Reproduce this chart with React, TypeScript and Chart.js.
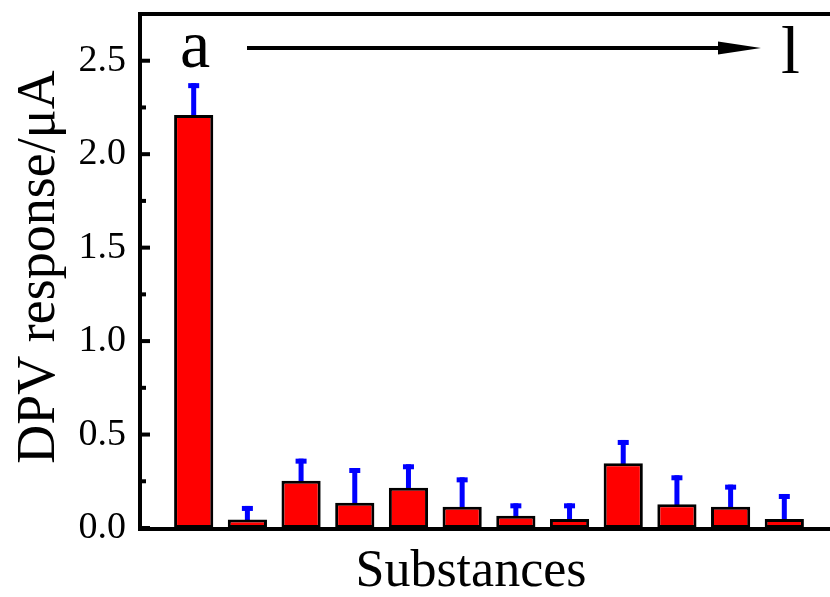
import React, { useEffect, useRef } from 'react';
import { Chart, registerables } from 'chart.js';

Chart.register(...registerables);

const substances = ['a', 'b', 'c', 'd', 'e', 'f', 'g', 'h', 'i', 'j', 'k', 'l'];
const responses = [2.21, 0.045, 0.253, 0.135, 0.216, 0.114, 0.066, 0.048, 0.346, 0.127, 0.114, 0.048];
const errors = [0.17, 0.073, 0.118, 0.186, 0.125, 0.157, 0.066, 0.084, 0.125, 0.155, 0.118, 0.134];
const yTicks = [0, 0.5, 1.0, 1.5, 2.0, 2.5];
const yMinorTicks = [0.25, 0.75, 1.25, 1.75, 2.25];
const yMin = 0;
const yMax = 2.75;
const xMin = 0;
const xMax = 13;
const yTitle = 'DPV response/\u03bcA';
const xTitle = 'Substances';
const startLabel = substances[0];
const endLabel = substances[substances.length - 1];

const FONT = '"Liberation Serif", "Times New Roman", serif';

const decorations = {
  id: 'decorations',
  beforeDatasetsDraw(chart: any) {
    const ctx = chart.ctx;
    const y = chart.scales.y;
    const meta = chart.getDatasetMeta(0);
    ctx.save();
    ctx.fillStyle = '#0000ff';
    meta.data.forEach((bar: any, i: number) => {
      const x = bar.x;
      const yTop = y.getPixelForValue(responses[i] + errors[i]);
      const yBar = y.getPixelForValue(responses[i]);
      ctx.fillRect(x - 2.5, yTop, 5, yBar - yTop + 2);
      ctx.fillRect(x - 5.5, yTop, 11, 5);
    });
    ctx.restore();
  },
  afterDraw(chart: any) {
    const ctx = chart.ctx;
    const a = chart.chartArea;
    const y = chart.scales.y;
    ctx.save();
    ctx.fillStyle = '#000';
    // frame: left axis, bottom axis, top line
    ctx.fillRect(a.left - 2, a.top - 2, 4, a.bottom - a.top + 4);
    ctx.fillRect(a.left - 2, a.bottom - 1, a.right - a.left + 4, 4);
    ctx.fillRect(a.left - 2, a.top - 2, a.right - a.left + 4, 4);
    // inward ticks
    yTicks.forEach((v) => {
      const py = y.getPixelForValue(v);
      ctx.fillRect(a.left, py - 2, 10, 4);
    });
    yMinorTicks.forEach((v) => {
      const py = y.getPixelForValue(v);
      ctx.fillRect(a.left, py - 2, 6, 4);
    });
    // y title
    ctx.save();
    ctx.translate(54, 267);
    ctx.rotate(-Math.PI / 2);
    ctx.font = `54px ${FONT}`;
    ctx.textAlign = 'center';
    ctx.textBaseline = 'alphabetic';
    ctx.fillText(yTitle, 0, 0);
    ctx.restore();
    // x title
    ctx.font = `52px ${FONT}`;
    ctx.textAlign = 'center';
    ctx.textBaseline = 'alphabetic';
    ctx.fillText(xTitle, 471, 586);
    // a -> l annotation
    ctx.font = `68px ${FONT}`;
    ctx.textAlign = 'left';
    ctx.fillText(startLabel, 180, 67);
    ctx.fillText(endLabel, 781, 73);
    ctx.fillRect(247, 46, 475, 4);
    ctx.beginPath();
    ctx.moveTo(718, 41.5);
    ctx.lineTo(761, 48);
    ctx.lineTo(718, 54.5);
    ctx.closePath();
    ctx.fill();
    ctx.restore();
  },
};

export default function App() {
  const ref = useRef<HTMLCanvasElement | null>(null);
  useEffect(() => {
    if (!ref.current) return;
    const chart = new Chart(ref.current, {
      type: 'bar',
      data: {
        labels: substances,
        datasets: [
          {
            data: responses.map((v, i) => ({ x: i + 1, y: v })),
            backgroundColor: '#ff0000',
            borderColor: '#000000',
            borderWidth: 3,
            borderSkipped: false,
            barPercentage: 0.73,
            categoryPercentage: 1,
          },
        ],
      },
      options: {
        responsive: false,
        animation: false,
        devicePixelRatio: 1,
        layout: { padding: { top: 14, bottom: 69, right: 4, left: 0 } },
        plugins: { legend: { display: false }, tooltip: { enabled: false }, title: { display: false } },
        scales: {
          x: {
            type: 'linear',
            min: xMin,
            max: xMax,
            offset: false,
            display: false,
          },
          y: {
            min: yMin,
            max: yMax,
            grid: { display: false, drawTicks: false },
            border: { display: false },
            afterFit: (s: any) => {
              s.width = 140;
              s.paddingTop = 0;
              s.paddingBottom = 0;
            },
            afterBuildTicks: (s: any) => {
              s.ticks = yTicks.map((v) => ({ value: v }));
            },
            ticks: {
              color: '#000',
              padding: 14,
              font: { family: FONT, size: 38 },
              callback: (v: any) => Number(v).toFixed(1),
            },
          },
        },
      },
      plugins: [decorations],
    });
    return () => chart.destroy();
  }, []);
  return (
    <div style={{ position: 'fixed', left: 0, top: 0, width: 830, height: 597, overflow: 'hidden', background: '#fff' }}>
      <canvas ref={ref} width={842} height={597} style={{ display: 'block' }} />
    </div>
  );
}
